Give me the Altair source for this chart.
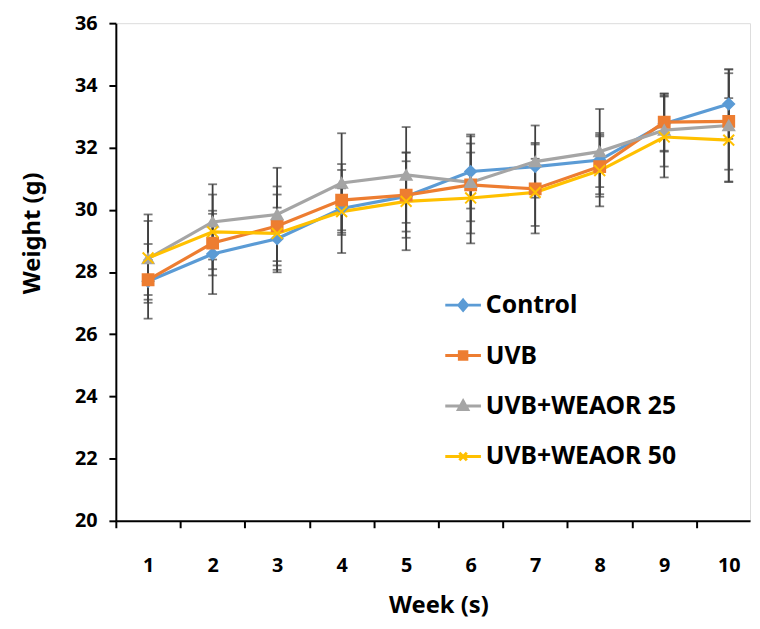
import altair as alt
import pandas as pd

weeks = [1, 2, 3, 4, 5, 6, 7, 8, 9, 10]
groups = ["Control", "UVB", "UVB+WEAOR 25", "UVB+WEAOR 50"]

control = [27.70, 28.58, 29.07, 30.04, 30.43, 31.23, 31.39, 31.60, 32.77, 33.40]
uvb = [27.75, 28.93, 29.48, 30.31, 30.47, 30.80, 30.67, 31.39, 32.82, 32.84]
weaor25 = [28.43, 29.61, 29.85, 30.86, 31.12, 30.88, 31.55, 31.87, 32.56, 32.71]
weaor50 = [28.45, 29.29, 29.24, 29.94, 30.27, 30.38, 30.56, 31.26, 32.34, 32.24]

control_sd = [1.20, 1.29, 1.00, 1.43, 1.13, 1.19, 0.76, 0.87, 0.90, 1.12]
uvb_sd = [0.64, 1.04, 1.27, 0.97, 1.37, 1.56, 1.43, 0.97, 0.92, 1.55]
weaor25_sd = [1.42, 1.21, 1.50, 1.60, 1.54, 1.25, 1.16, 1.37, 1.17, 1.80]
weaor50_sd = [1.19, 1.20, 1.25, 0.75, 1.57, 1.46, 1.08, 1.15, 1.30, 1.35]

y_ticks = [20, 22, 24, 26, 28, 30, 32, 34, 36]

colors = ["#5B9BD5", "#ED7D31", "#A5A5A5", "#FFC000"]
marker_shapes = ["diamond", "square", "triangle-up", "M-1,-1L1,1M-1,1L1,-1"]
legend_shapes = [
    "M-1,0H1M0,-0.28L0.24,0L0,0.28L-0.24,0Z",
    "M-1,0H1M-0.21,-0.21H0.21V0.21H-0.21Z",
    "M-1,0H1M0,-0.28L0.26,0.19H-0.26Z",
    "M-1,0H1M-0.21,-0.21L0.21,0.21M-0.21,0.21L0.21,-0.21",
]

rows = []
for g, vals, sds in zip(groups, [control, uvb, weaor25, weaor50],
                        [control_sd, uvb_sd, weaor25_sd, weaor50_sd]):
    for w, v, s in zip(weeks, vals, sds):
        rows.append({"Week": w, "Group": g, "Weight": v,
                     "Lower": round(v - s, 3), "Upper": round(v + s, 3)})
df = pd.DataFrame(rows)

FONT = "Noto Sans"
STEP = 641 / 9.83

x_enc = alt.X(
    "Week:Q",
    scale=alt.Scale(domain=[0.5, 10.33], nice=False, zero=False),
    axis=alt.Axis(
        values=weeks, tickOffset=-STEP / 2, labelOffset=STEP / 2,
        tickSize=7, tickWidth=2, tickColor="#000", domainColor="#000",
        domainWidth=2, grid=False, labelFont=FONT, labelFontSize=20,
        labelFontWeight="bold", labelColor="#000", labelPadding=28,
        titleFont=FONT, titleFontSize=24, titleFontWeight="bold",
        titleColor="#000", titlePadding=19, titleX=326,
    ),
    title="Week (s)",
)
y_axis = alt.Axis(
    values=y_ticks, tickSize=7, tickWidth=2, tickColor="#000",
    domainColor="#000", domainWidth=2, grid=False, labelFont=FONT,
    labelFontSize=20, labelFontWeight="bold", labelColor="#000",
    labelPadding=12, titleFont=FONT, titleFontSize=24,
    titleFontWeight="bold", titleColor="#000", titlePadding=30, titleY=212,
)
y_scale = alt.Scale(domain=[20, 36], nice=False, zero=False)
y_enc = alt.Y("Weight:Q", scale=y_scale, axis=y_axis, title="Weight (g)")

color_scale = alt.Scale(domain=groups, range=colors)

base = alt.Chart(df)

err_rule = base.mark_rule(color="#404040", strokeWidth=1.8).encode(
    x=x_enc, y=alt.Y("Lower:Q", scale=y_scale, axis=y_axis, title="Weight (g)"),
    y2="Upper:Q",
)
err_top = base.mark_tick(color="#404040", orient="horizontal", size=9, thickness=1.8).encode(
    x=x_enc, y=alt.Y("Upper:Q"),
)
err_bot = base.mark_tick(color="#404040", orient="horizontal", size=9, thickness=1.8).encode(
    x=x_enc, y=alt.Y("Lower:Q"),
)

lines = base.mark_line(strokeWidth=3.2).encode(
    x=x_enc, y=y_enc,
    color=alt.Color("Group:N", scale=color_scale, legend=None),
    detail="Group:N",
)
points = base.mark_point(filled=True, size=120, strokeWidth=2, opacity=1).encode(
    x=x_enc, y=y_enc,
    color=alt.Color("Group:N", scale=color_scale, legend=None),
    stroke=alt.Stroke("Group:N", scale=color_scale, legend=None),
    shape=alt.Shape("Group:N", scale=alt.Scale(domain=groups, range=marker_shapes), legend=None),
)

plot_layer = alt.layer(err_rule, err_top, err_bot, lines, points)

leg = dict(
    title=None, orient="none", legendX=331, legendY=265, symbolSize=1300,
    symbolStrokeWidth=3, symbolOpacity=1, labelFont=FONT, labelFontSize=25,
    labelFontWeight="bold", labelColor="#000", labelOffset=3, rowPadding=18,
    padding=0, labelLimit=400,
)
legend_layer = base.transform_filter("datum.Week < 0").mark_point(filled=True).encode(
    x=x_enc, y=y_enc,
    color=alt.Color("Group:N", scale=alt.Scale(domain=groups, range=colors), legend=alt.Legend(**leg)),
    stroke=alt.Stroke("Group:N", scale=alt.Scale(domain=groups, range=colors), legend=alt.Legend(**leg)),
    shape=alt.Shape("Group:N", scale=alt.Scale(domain=groups, range=legend_shapes), legend=alt.Legend(**leg)),
)

chart = alt.layer(plot_layer, legend_layer).resolve_scale(
    color="independent", stroke="independent", shape="independent"
).properties(
    width=641, height=503,
    autosize=alt.AutoSizeParams(type="none"),
    padding={"left": 109, "top": 12, "right": 2, "bottom": 104},
).configure_view(stroke=None).configure(background="white")

chart.save("out.html", embed_options={"renderer": "svg", "actions": False})
